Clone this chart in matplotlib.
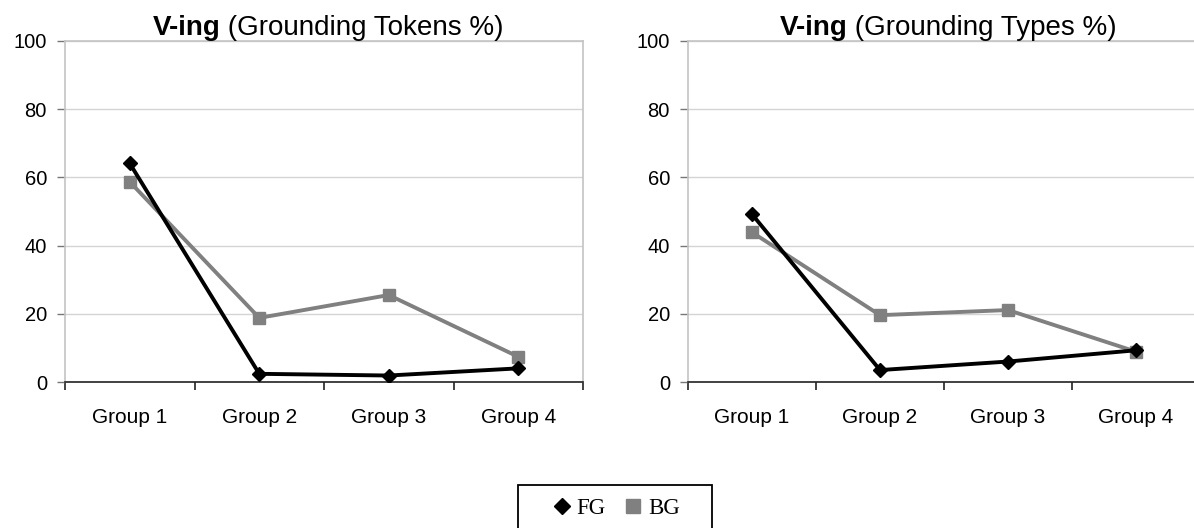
import numpy as np
import matplotlib.pyplot as plt
from matplotlib.lines import Line2D
from matplotlib.patches import Rectangle

plt.rcParams['font.family'] = ['Liberation Sans', 'DejaVu Sans']

groups = ["Group 1", "Group 2", "Group 3", "Group 4"]
tokens_fg = [64.1, 2.4, 1.9, 4.0]
tokens_bg = [58.7, 18.8, 25.5, 7.4]
types_fg = [49.2, 3.5, 6.0, 9.3]
types_bg = [43.9, 19.6, 21.1, 8.9]

W, H = 1194, 528
fig = plt.figure(figsize=(W / 100, H / 100), dpi=100)

ax_l = fig.add_axes([65 / W, 1 - 382 / H, 518 / W, 341 / H])
ax_r = fig.add_axes([688 / W, 1 - 382 / H, 512 / W, 341 / H])

x = np.arange(len(groups))


def style(ax, fg, bg, subtitle):
    ax.set_xlim(-0.5, len(groups) - 0.5)
    ax.set_ylim(0, 100)
    ax.set_yticks([0, 20, 40, 60, 80, 100])
    ax.yaxis.grid(True, color='#d4d4d4', lw=1)
    ax.set_axisbelow(True)
    for s in ['top', 'right', 'left']:
        ax.spines[s].set_color('#c4c4c4')
        ax.spines[s].set_linewidth(1.2)
    ax.spines['bottom'].set_color('#222222')
    ax.spines['bottom'].set_linewidth(1.2)
    ax.set_xticks(x)
    ax.set_xticklabels(groups)
    ax.set_xticks(np.arange(-0.5, len(groups)), minor=True)
    ax.tick_params(axis='x', which='major', length=0, pad=18.5, labelsize=15)
    ax.tick_params(axis='x', which='minor', length=6, width=1.2, color='#222222', direction='out')
    ax.tick_params(axis='y', length=6, width=1, color='#777777', labelsize=14.5, pad=7)

    ax.plot(x, bg, color='#808080', lw=2.8, marker='s', ms=8.5, zorder=3)
    ax.plot(x, fg, color='black', lw=2.8, marker='D', ms=7.5, zorder=4)

    # bold "V-ing" followed by the plain subtitle, sharing one baseline
    t1 = ax.text(0.5, 1.017, "V-ing", transform=ax.transAxes, fontsize=20,
                 fontweight='bold', ha='left', va='baseline')
    t2 = ax.text(0.5, 1.017, " (" + subtitle + ")", transform=ax.transAxes, fontsize=20,
                 ha='left', va='baseline')
    return t1, t2


titles = [style(ax_l, tokens_fg, tokens_bg, "Grounding Tokens %"),
          style(ax_r, types_fg, types_bg, "Grounding Types %")]

fig.canvas.draw()
r = fig.canvas.get_renderer()
for ax, (t1, t2) in zip([ax_l, ax_r], titles):
    w1 = t1.get_window_extent(r).width
    w2 = t2.get_window_extent(r).width
    ax_bb = ax.get_window_extent(r)
    cx = (ax_bb.x0 + ax_bb.x1) / 2 + 4
    x0 = cx - (w1 + w2) / 2
    t1.set_x((x0 - ax_bb.x0) / ax_bb.width)
    t2.set_x((x0 + w1 - ax_bb.x0) / ax_bb.width)

handles = [Line2D([], [], color='black', marker='D', ls='none', ms=8),
           Line2D([], [], color='#808080', marker='s', ls='none', ms=9.5)]
fig.legend(handles, ["FG", "BG"], loc='center', bbox_to_anchor=(616 / W, 1 - 508 / H),
           ncol=2, frameon=False,
           prop={'family': 'Liberation Serif', 'size': 16.5},
           handlelength=0.8, handletextpad=0.26, columnspacing=0.78,
           borderpad=0, borderaxespad=0)
fig.patches.append(Rectangle((518 / W, -0.05), 194 / W, 0.05 + 1 - 485 / H,
                             transform=fig.transFigure, fill=False,
                             edgecolor='black', lw=1.3))

fig.savefig("out.png", dpi=100)
